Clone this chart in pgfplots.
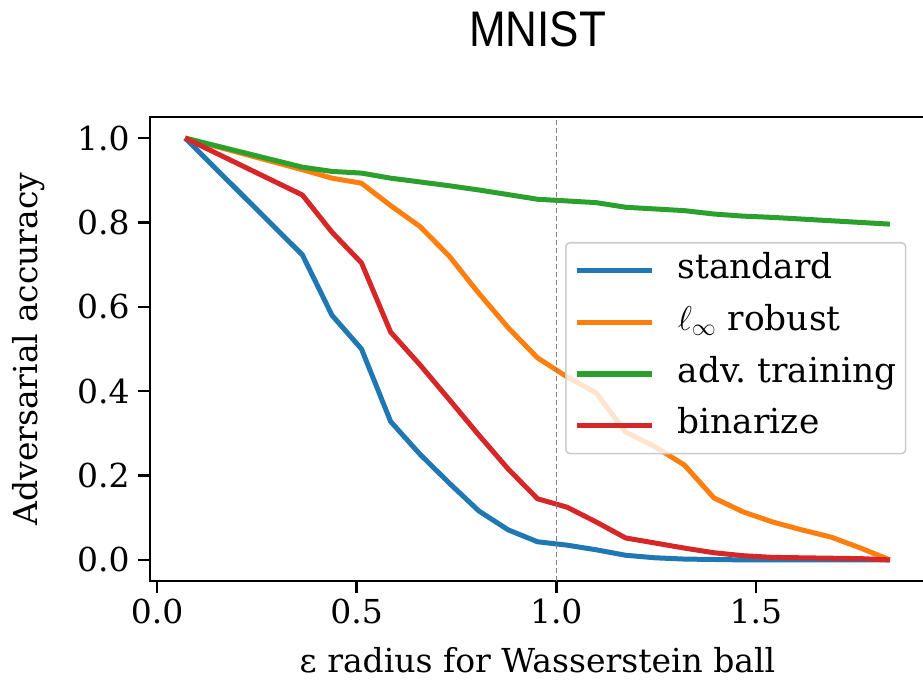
\documentclass[border=0pt]{standalone}
\usepackage{fontspec}
\setmainfont{DejaVu Serif}
\newfontfamily\titlefont[FakeStretch=0.88]{Liberation Sans}
\usepackage{pgfplots}
\pgfplotsset{compat=1.18}

\definecolor{tabblue}{HTML}{1F77B4}
\definecolor{taborange}{HTML}{FF7F0E}
\definecolor{tabgreen}{HTML}{2CA02C}
\definecolor{tabred}{HTML}{D62728}

\begin{document}
\fontsize{16.5bp}{20bp}\selectfont
\begin{tikzpicture}
\begin{axis}[
    at={(0,0)}, anchor=south west,
    scale only axis,
    width=387.5bp, height=232bp,
    xmin=-0.018, xmax=1.924,
    ymin=-0.05, ymax=1.05,
    xtick={0,0.5,1,1.5},
    ytick={0,0.2,0.4,0.6,0.8,1},
    tick pos=left,
    tick align=outside,
    major tick length=6bp,
    every tick/.style={black, line width=1.25bp},
    axis line style={line width=1.25bp},
    /pgf/number format/assume math mode=true,
    /pgf/number format/fixed,
    /pgf/number format/fixed zerofill,
    /pgf/number format/precision=1,
    yticklabel style={inner sep=0pt, xshift=-4bp},
    xticklabel style={inner sep=0pt, yshift=-3bp},
    xlabel={ε radius for Wasserstein ball},
    ylabel={Adversarial accuracy},
    xlabel style={at={(axis description cs:0.5,0)}, anchor=base, yshift=-45.5bp, inner sep=0pt},
    ylabel style={at={(axis description cs:-0.1355,0.5)}, anchor=south, inner sep=0pt},
    title={\titlefont\fontsize{25bp}{30bp}\selectfont MNIST},
    title style={at={(axis description cs:0.5,1)}, anchor=base, yshift=29.5bp, inner sep=0pt},
    legend cell align=left,
    legend image code/.code={\draw[#1] (0bp,0bp) -- (37.5bp,0bp); \path (49bp,0bp);},
    legend style={
        at={(axis description cs:0.5355,0.7306)}, anchor=north west,
        draw=black!20, line width=0.8bp, rounded corners=2bp,
        fill=white, fill opacity=0.8, text opacity=1,
        inner xsep=4.5bp, inner ysep=6bp, row sep=9.8bp,
        font=\fontsize{17.2bp}{20bp}\selectfont,
        nodes={inner sep=0pt, text height=12bp, text depth=4bp},
    },
    every axis plot/.append style={line width=2.5bp, line join=round},
]

\addplot[tabblue] coordinates {
(0.070,1.0)(0.364,0.723)(0.438,0.58)(0.512,0.50)(0.585,0.328)(0.659,0.25)
(0.732,0.182)(0.806,0.116)(0.880,0.071)(0.953,0.043)(1.027,0.035)(1.100,0.024)
(1.174,0.011)(1.248,0.005)(1.321,0.002)(1.395,0.001)(1.468,0.0)(1.542,0.0)
(1.616,0.0)(1.689,0.0)(1.763,0.0)(1.836,0.0)
};
\addplot[taborange] coordinates {
(0.070,1.0)(0.364,0.925)(0.438,0.905)(0.512,0.893)(0.585,0.84)(0.659,0.79)
(0.732,0.72)(0.806,0.632)(0.880,0.55)(0.953,0.479)(1.027,0.434)(1.100,0.396)
(1.174,0.303)(1.248,0.268)(1.321,0.225)(1.395,0.147)(1.468,0.114)(1.542,0.09)
(1.616,0.071)(1.689,0.054)(1.763,0.028)(1.836,0.0)
};
\addplot[tabgreen] coordinates {
(0.070,1.0)(0.364,0.931)(0.438,0.921)(0.512,0.917)(0.585,0.905)(0.659,0.896)
(0.732,0.887)(0.806,0.877)(0.880,0.866)(0.953,0.855)(1.027,0.851)(1.100,0.847)
(1.174,0.836)(1.248,0.832)(1.321,0.828)(1.395,0.82)(1.468,0.815)(1.542,0.812)
(1.616,0.808)(1.689,0.804)(1.763,0.800)(1.836,0.796)
};
\addplot[tabred] coordinates {
(0.070,1.0)(0.364,0.865)(0.438,0.777)(0.512,0.704)(0.585,0.54)(0.659,0.462)
(0.732,0.38)(0.806,0.296)(0.880,0.215)(0.953,0.145)(1.027,0.125)(1.100,0.09)
(1.174,0.052)(1.248,0.04)(1.321,0.028)(1.395,0.017)(1.468,0.01)(1.542,0.006)
(1.616,0.005)(1.689,0.004)(1.763,0.003)(1.836,0.0)
};
% vertical reference at radius 1
\addplot[forget plot, black!50, line width=0.75bp, dash pattern=on 2.5bp off 1.5bp] coordinates {(1,-0.05)(1,1.05)};

\legend{standard, $\ell_{\infty}$ robust, adv.\ training, binarize}
\end{axis}
\pgfresetboundingbox
\useasboundingbox (-75bp,-53.5bp) rectangle (386.5bp,290.5bp);
\end{tikzpicture}
\end{document}
